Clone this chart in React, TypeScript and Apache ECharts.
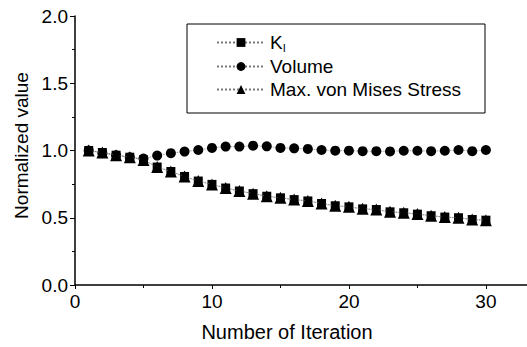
import React, { useEffect, useRef } from "react";
import * as echarts from "echarts";

const iterations = Array.from({ length: 30 }, (_, i) => i + 1);
const kiValues = [1.0, 0.985, 0.965, 0.95, 0.93, 0.877, 0.844, 0.807, 0.773, 0.748, 0.721, 0.699, 0.679, 0.66, 0.648, 0.635, 0.625, 0.606, 0.589, 0.581, 0.566, 0.561, 0.544, 0.537, 0.527, 0.515, 0.505, 0.5, 0.487, 0.482];
const volumeValues = [1.0, 0.98, 0.965, 0.95, 0.94, 0.962, 0.98, 0.992, 1.004, 1.019, 1.029, 1.029, 1.036, 1.031, 1.019, 1.016, 1.012, 1.004, 0.999, 0.999, 0.995, 0.995, 0.993, 0.998, 0.998, 0.995, 0.998, 1.004, 0.995, 1.004];
const stressValues = [1.0, 0.985, 0.965, 0.95, 0.93, 0.877, 0.844, 0.807, 0.773, 0.748, 0.721, 0.699, 0.679, 0.66, 0.648, 0.635, 0.625, 0.606, 0.589, 0.581, 0.566, 0.561, 0.544, 0.537, 0.527, 0.515, 0.505, 0.5, 0.487, 0.482];
const seriesNames = ["K_I", "Volume", "Max. von Mises Stress"];

const FONT = "'Liberation Sans', Arial, Helvetica, sans-serif";

export default function App() {
  const ref = useRef<HTMLDivElement>(null);
  useEffect(() => {
    if (!ref.current) return;
    const chart = echarts.init(ref.current, null, { renderer: "svg" });
    const pts = (vals: number[]) => iterations.map((x, i) => [x, vals[i]]);
    const lineStyle = { color: "#777", width: 0.8, type: "dotted" as const };
    chart.setOption({
      animation: false,
      backgroundColor: "#fff",
      textStyle: { fontFamily: FONT, color: "#000" },
      grid: { left: 75, top: 16, width: 459, height: 271 },
      xAxis: {
        type: "value",
        min: 0,
        max: 33,
        interval: 10,
        name: "Number of Iteration",
        nameLocation: "middle",
        nameGap: 37,
        nameTextStyle: { fontSize: 20, color: "#000", fontFamily: FONT, padding: [0, 28, 0, 0] },
        axisLine: { show: true, lineStyle: { color: "#000", width: 1.5 } },
        axisTick: { show: true, inside: false, length: 4, lineStyle: { color: "#000" } },
        minorTick: { show: true, splitNumber: 2, length: 3, lineStyle: { color: "#000" } },
        axisLabel: { fontSize: 19, color: "#000", fontFamily: FONT, margin: 7, showMaxLabel: false },
        splitLine: { show: false },
      },
      yAxis: {
        type: "value",
        min: 0,
        max: 2,
        interval: 0.5,
        name: "Normalized value",
        nameLocation: "middle",
        nameGap: 42,
        nameRotate: 90,
        nameTextStyle: { fontSize: 19, color: "#000", fontFamily: FONT, padding: [0, 0, 0, 10] },
        axisLine: { show: true, lineStyle: { color: "#000", width: 1.5 } },
        axisTick: { show: true, inside: false, length: 5, lineStyle: { color: "#000" } },
        minorTick: { show: true, splitNumber: 2, length: 3, lineStyle: { color: "#000" } },
        axisLabel: { fontSize: 19, color: "#000", fontFamily: FONT, margin: 7, formatter: (v: number) => v.toFixed(1) },
        splitLine: { show: false },
      },
      legend: {
        orient: "vertical",
        left: 211,
        top: 28,
        itemWidth: 48,
        itemHeight: 11,
        itemGap: 4,
        data: seriesNames,
        textStyle: {
          fontSize: 19,
          color: "#000",
          fontFamily: FONT,
          rich: {
            main: { fontSize: 19, fontFamily: FONT, color: "#000" },
            sub: { fontSize: 11, fontFamily: FONT, color: "#000", padding: [10, 0, 0, 0] },
          },
        },
        formatter: (name: string) => (name === "K_I" ? "{main|K}{sub|I}" : name),
      },
      graphic: [
        {
          type: "rect",
          shape: { x: 187, y: 24, width: 298, height: 89 },
          style: { fill: "none", stroke: "#000", lineWidth: 1 },
          silent: true,
          z: 100,
        },
      ],
      series: [
        {
          name: seriesNames[0],
          type: "line",
          data: pts(kiValues),
          symbol: "rect",
          symbolSize: 9,
          itemStyle: { color: "#000" },
          lineStyle,
          z: 2,
        },
        {
          name: seriesNames[1],
          type: "line",
          data: pts(volumeValues),
          symbol: "circle",
          symbolSize: 10,
          itemStyle: { color: "#000" },
          lineStyle,
          z: 3,
        },
        {
          name: seriesNames[2],
          type: "line",
          data: pts(stressValues),
          symbol: "triangle",
          symbolSize: 12,
          itemStyle: { color: "#000" },
          lineStyle,
          z: 4,
        },
      ],
    });
    return () => chart.dispose();
  }, []);
  return <div ref={ref} style={{ width: 527, height: 347, position: "fixed", left: 0, top: 0 }} />;
}
